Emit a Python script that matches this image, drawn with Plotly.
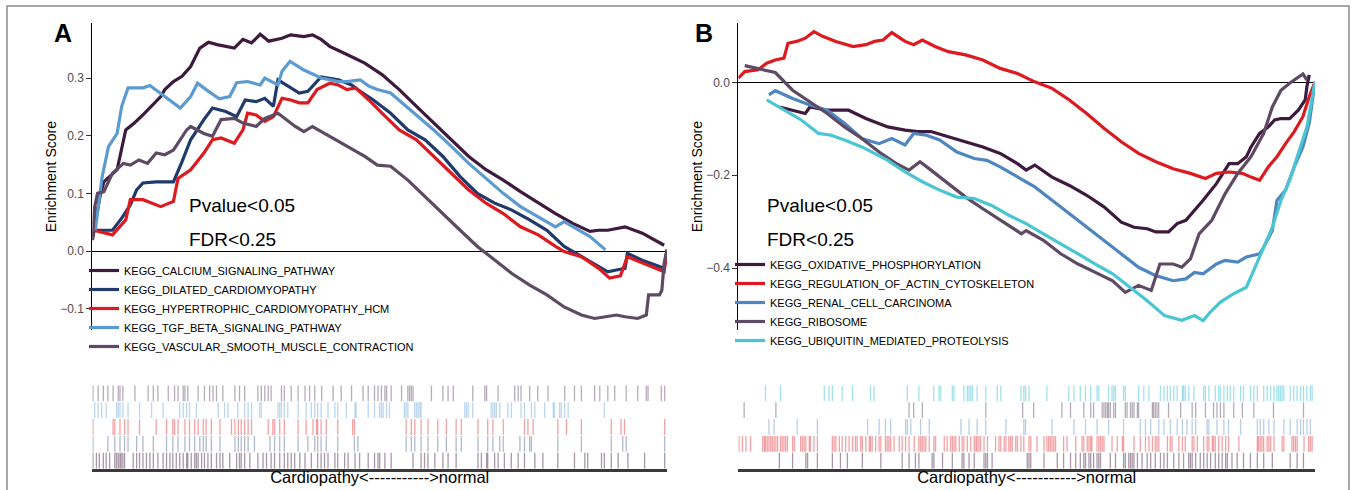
import plotly.graph_objects as go

W, H = 1356, 490
FONT = "Liberation Sans, Arial, sans-serif"

# ---------------- Panel A data (rank 0..1000, enrichment score) ----------------
a_names = ["KEGG_CALCIUM_SIGNALING_PATHWAY", "KEGG_DILATED_CARDIOMYOPATHY",
           "KEGG_HYPERTROPHIC_CARDIOMYOPATHY_HCM", "KEGG_TGF_BETA_SIGNALING_PATHWAY",
           "KEGG_VASCULAR_SMOOTH_MUSCLE_CONTRACTION"]
a_colors = ["#3d1a3e", "#1f3a6b", "#dc1a1f", "#5b9bd0", "#5e4a64"]
a_tick_colors = ["rgba(61,26,62,0.45)", "rgba(31,58,107,0.35)", "rgba(220,26,31,0.40)",
                 "rgba(91,155,208,0.40)", "rgba(94,74,100,0.45)"]

calcium_x = [0, 13, 20, 43, 58, 73, 88, 103, 119, 126, 141, 156, 171, 187, 202, 217, 247, 262, 277, 292, 307, 330, 345, 368, 383, 398, 413, 443, 474, 504, 534, 564, 594, 625, 655, 685, 715, 745, 776, 806, 836, 866, 881, 897, 927, 957, 995]
calcium_y = [0.019, 0.094, 0.120, 0.141, 0.210, 0.222, 0.236, 0.251, 0.268, 0.280, 0.294, 0.303, 0.320, 0.352, 0.362, 0.358, 0.352, 0.367, 0.361, 0.376, 0.364, 0.369, 0.375, 0.372, 0.375, 0.367, 0.355, 0.341, 0.326, 0.306, 0.280, 0.251, 0.222, 0.193, 0.164, 0.141, 0.123, 0.103, 0.083, 0.065, 0.048, 0.034, 0.036, 0.036, 0.042, 0.031, 0.010]

dilated_x = [2, 35, 51, 66, 77, 88, 111, 141, 156, 171, 194, 209, 232, 251, 266, 285, 300, 315, 323, 338, 360, 375, 398, 428, 451, 466, 489, 519, 549, 579, 610, 640, 670, 700, 730, 761, 791, 821, 851, 897, 912, 927, 931, 957, 995, 1000]
dilated_y = [0.036, 0.036, 0.057, 0.080, 0.106, 0.118, 0.120, 0.120, 0.155, 0.193, 0.228, 0.248, 0.242, 0.233, 0.262, 0.259, 0.265, 0.251, 0.297, 0.288, 0.274, 0.277, 0.302, 0.297, 0.288, 0.277, 0.262, 0.239, 0.210, 0.193, 0.164, 0.129, 0.100, 0.083, 0.071, 0.054, 0.036, 0.008, -0.010, -0.036, -0.033, -0.030, -0.004, -0.016, -0.030, 0.002]

hcm_x = [2, 35, 58, 66, 88, 119, 141, 149, 171, 194, 209, 224, 247, 262, 270, 285, 300, 315, 330, 345, 360, 375, 391, 413, 428, 443, 458, 481, 504, 534, 564, 594, 625, 655, 685, 715, 745, 776, 806, 821, 851, 881, 900, 919, 931, 957, 995, 1000]
hcm_y = [0.036, 0.028, 0.054, 0.089, 0.089, 0.077, 0.086, 0.126, 0.141, 0.170, 0.193, 0.196, 0.187, 0.210, 0.239, 0.236, 0.225, 0.233, 0.265, 0.262, 0.257, 0.257, 0.280, 0.291, 0.288, 0.280, 0.283, 0.262, 0.239, 0.210, 0.193, 0.164, 0.135, 0.106, 0.083, 0.065, 0.042, 0.028, 0.008, -0.001, -0.010, -0.030, -0.047, -0.043, -0.010, -0.021, -0.036, 0.002]

tgf_x = [5, 17, 28, 43, 51, 62, 88, 100, 126, 153, 171, 183, 202, 221, 239, 251, 270, 292, 300, 323, 330, 344, 368, 398, 413, 428, 443, 466, 481, 496, 519, 542, 564, 594, 625, 655, 685, 715, 745, 776, 806, 821, 836, 866, 893]
tgf_y = [0.036, 0.129, 0.181, 0.204, 0.251, 0.283, 0.283, 0.287, 0.268, 0.248, 0.268, 0.291, 0.277, 0.264, 0.268, 0.292, 0.294, 0.288, 0.300, 0.288, 0.312, 0.329, 0.314, 0.300, 0.297, 0.294, 0.294, 0.297, 0.286, 0.280, 0.274, 0.254, 0.236, 0.210, 0.181, 0.152, 0.126, 0.100, 0.077, 0.060, 0.042, 0.051, 0.042, 0.025, 0.002]

vascular_x = [0, 4, 9, 20, 35, 54, 66, 81, 96, 111, 126, 141, 149, 164, 171, 194, 209, 224, 247, 262, 285, 300, 323, 338, 353, 368, 383, 413, 443, 474, 496, 519, 549, 579, 610, 640, 670, 700, 730, 761, 791, 821, 851, 874, 897, 912, 927, 949, 964, 968, 987, 991, 995, 1000]
vascular_y = [0.019, 0.077, 0.100, 0.103, 0.135, 0.152, 0.149, 0.158, 0.152, 0.170, 0.167, 0.175, 0.187, 0.210, 0.216, 0.204, 0.199, 0.228, 0.230, 0.222, 0.216, 0.230, 0.239, 0.228, 0.216, 0.207, 0.216, 0.199, 0.181, 0.164, 0.149, 0.147, 0.123, 0.094, 0.065, 0.036, 0.008, -0.016, -0.039, -0.059, -0.076, -0.097, -0.111, -0.117, -0.114, -0.111, -0.114, -0.117, -0.111, -0.076, -0.076, -0.068, -0.021, 0.002]

# gene hit positions (barcode), rank 0..1000
calcium_hits = [1, 7, 12, 19, 24, 30, 39, 42, 45, 48, 50, 53, 56, 71, 77, 82, 88, 94, 100, 106, 114, 123, 129, 135, 140, 146, 152, 158, 164, 166, 172, 178, 181, 184, 190, 195, 201, 207, 216, 222, 227, 239, 251, 256, 259, 265, 274, 288, 297, 303, 311, 317, 326, 334, 340, 346, 352, 361, 370, 381, 392, 398, 404, 410, 422, 427, 439, 445, 457, 465, 480, 491, 497,
                500, 509, 520, 558, 572, 578, 584, 596, 610, 619, 633, 671, 677, 686, 688, 700, 706, 717, 729, 741, 752, 770, 784, 810, 839, 857, 862, 886, 891, 903, 915, 932, 961, 996]
dilated_hits = [1, 27, 39, 48, 56, 62, 77, 88, 106, 129, 140, 149, 161, 169, 178, 187, 193, 198, 207, 222, 248, 254, 259, 265, 271, 282, 309, 317, 326, 334, 358, 375, 387, 392, 398, 407, 427, 456, 462,
                546, 555, 561, 572, 584, 601, 616, 633, 642, 671, 688, 697, 709, 715, 744, 752, 761, 764, 810, 851, 903, 923, 929, 996]
hcm_hits = [1, 36, 39, 48, 56, 62, 82, 111, 129, 140, 143, 149, 161, 169, 178, 184, 193, 198, 207, 222, 242, 248, 254, 259, 265, 271, 277, 306, 314, 317, 326, 334, 358, 372, 384, 390, 392, 398, 407, 427, 453, 456,
            546, 555, 561, 572, 584, 601, 616, 633, 642, 671, 688, 697, 715, 752, 758, 767, 810, 825, 851, 903, 920, 926, 996]
tgf_hits = [4, 10, 16, 24, 42, 45, 48, 53, 62, 82, 103, 123, 152, 158, 164, 169, 181, 219, 230, 236, 253, 265, 271, 277, 291, 294, 323, 326, 329, 334, 340, 358, 372, 381, 387, 392, 398, 410, 422, 427, 442, 457, 459, 480, 491,
            500, 503, 506, 512, 517, 543, 546, 549, 561, 564, 567, 570, 572, 648, 651, 654, 662, 694, 697, 700, 703, 709, 723, 729, 746, 752, 764, 770, 787, 802, 804, 813, 816, 822, 828, 891]
vascular_hits = [1, 10, 19, 27, 36, 45, 48, 53, 74, 97, 106, 114, 132, 143, 149, 158, 161, 166, 184, 195, 204, 210, 216, 227, 248, 256, 265, 288, 294, 300, 306, 311, 329, 334, 346, 358, 370, 378, 387, 399, 419, 433, 451, 471, 480, 491,
                 497, 503, 509, 512, 520, 538, 549, 552, 555, 558, 590, 610, 619, 628, 662, 683, 686, 706, 735, 741, 746, 761, 775, 793, 822, 839, 851, 874, 883, 897, 909, 929, 949, 964, 967, 990, 996]

# ---------------- Panel B data ----------------
b_names = ["KEGG_OXIDATIVE_PHOSPHORYLATION", "KEGG_REGULATION_OF_ACTIN_CYTOSKELETON",
           "KEGG_RENAL_CELL_CARCINOMA", "KEGG_RIBOSOME", "KEGG_UBIQUITIN_MEDIATED_PROTEOLYSIS"]
b_colors = ["#3d1a3e", "#dc1a1f", "#4f86c0", "#5e4a64", "#4ac6d3"]
b_tick_colors = ["rgba(61,26,62,0.45)", "rgba(220,26,31,0.40)", "rgba(79,134,192,0.40)",
                 "rgba(94,74,100,0.45)", "rgba(74,198,211,0.50)"]

oxid_x = [71, 94, 116, 124, 154, 191, 221, 259, 289, 311, 334, 364, 394, 424, 454, 484, 499, 514, 544, 574, 604, 634, 664, 686, 709, 724, 746, 761, 776, 791, 806, 829, 851, 866, 881, 889, 904, 919, 930, 941, 956, 971, 983, 986, 990]
oxid_y = [-0.053, -0.060, -0.067, -0.053, -0.060, -0.060, -0.078, -0.096, -0.103, -0.106, -0.106, -0.117, -0.128, -0.139, -0.153, -0.175, -0.189, -0.178, -0.204, -0.222, -0.243, -0.268, -0.301, -0.312, -0.315, -0.322, -0.322, -0.304, -0.297, -0.276, -0.254, -0.218, -0.175, -0.175, -0.160, -0.139, -0.110, -0.096, -0.081, -0.078, -0.078, -0.060, -0.038, -0.009, 0.016]

actin_x = [0, 11, 34, 49, 64, 79, 86, 101, 116, 131, 146, 169, 199, 221, 236, 251, 266, 289, 304, 319, 341, 364, 394, 424, 454, 484, 514, 544, 574, 604, 634, 664, 694, 724, 754, 784, 810, 829, 851, 874, 889, 904, 919, 934, 949, 964, 979, 990, 1000]
actin_y = [0.009, 0.023, 0.027, 0.041, 0.048, 0.052, 0.084, 0.088, 0.095, 0.109, 0.099, 0.088, 0.077, 0.081, 0.088, 0.091, 0.107, 0.088, 0.081, 0.091, 0.077, 0.066, 0.059, 0.048, 0.030, 0.019, 0.001, -0.013, -0.038, -0.067, -0.099, -0.128, -0.153, -0.171, -0.186, -0.196, -0.207, -0.196, -0.193, -0.196, -0.204, -0.211, -0.182, -0.160, -0.132, -0.106, -0.074, -0.031, 0.001]

renal_x = [53, 64, 94, 124, 154, 184, 214, 244, 266, 289, 304, 326, 349, 379, 409, 431, 454, 484, 514, 544, 574, 604, 634, 664, 694, 724, 754, 776, 791, 806, 829, 844, 866, 881, 904, 911, 926, 934, 949, 964, 979, 990, 1000]
renal_y = [-0.027, -0.018, -0.035, -0.049, -0.060, -0.088, -0.121, -0.132, -0.121, -0.135, -0.110, -0.114, -0.124, -0.150, -0.164, -0.168, -0.182, -0.204, -0.225, -0.254, -0.283, -0.312, -0.340, -0.369, -0.398, -0.416, -0.427, -0.423, -0.409, -0.412, -0.391, -0.383, -0.387, -0.376, -0.369, -0.355, -0.319, -0.254, -0.232, -0.182, -0.139, -0.088, 0.001]

ribo_x = [11, 64, 94, 124, 154, 184, 214, 244, 274, 296, 315, 334, 364, 394, 424, 454, 491, 499, 529, 559, 589, 619, 649, 671, 694, 716, 731, 754, 769, 784, 799, 821, 844, 866, 889, 911, 926, 941, 956, 979, 986]
ribo_y = [0.036, 0.021, -0.017, -0.042, -0.067, -0.096, -0.121, -0.150, -0.175, -0.189, -0.171, -0.189, -0.218, -0.247, -0.272, -0.297, -0.326, -0.319, -0.340, -0.369, -0.391, -0.409, -0.427, -0.452, -0.437, -0.448, -0.391, -0.391, -0.398, -0.380, -0.326, -0.297, -0.240, -0.196, -0.160, -0.110, -0.053, -0.017, -0.002, 0.018, 0.005]

ubiq_x = [49, 79, 109, 139, 161, 184, 214, 236, 259, 289, 319, 349, 379, 409, 439, 469, 499, 529, 559, 589, 619, 649, 679, 709, 739, 769, 791, 806, 818, 836, 859, 881, 896, 911, 926, 941, 956, 971, 986, 1000]
ubiq_y = [-0.038, -0.060, -0.081, -0.110, -0.114, -0.124, -0.139, -0.153, -0.168, -0.193, -0.214, -0.232, -0.247, -0.250, -0.265, -0.286, -0.304, -0.326, -0.347, -0.369, -0.391, -0.412, -0.441, -0.470, -0.502, -0.512, -0.502, -0.513, -0.495, -0.473, -0.455, -0.441, -0.398, -0.355, -0.312, -0.254, -0.211, -0.153, -0.096, 0.001]

oxid_hits = [71, 94, 117, 120, 137, 163, 177, 189, 215, 247, 284, 296, 307, 313, 336, 339, 354, 371, 388, 391, 400, 409, 426, 429, 432, 440,
             501, 504, 507, 530, 553, 564, 576, 585, 593, 599, 602, 608, 611, 616, 622, 625, 628, 645, 654, 668, 671, 677, 680, 683, 686, 692, 700, 709, 715, 723, 732, 738, 744, 755, 764, 772, 781, 784, 787, 793, 801, 807, 813, 819, 827, 833, 839, 845, 848, 856, 865, 876, 888, 900, 911, 926, 957, 969, 980]
actin_hits = [1, 7, 13, 21, 42, 45, 47, 50, 53, 56, 59, 62, 65, 68, 73, 76, 79, 82, 85, 94, 97, 108, 111, 114, 117, 123, 125, 131, 137, 163, 166, 169, 175, 180, 186, 192, 198, 203, 206, 212, 215, 221, 227, 229, 232, 238, 244, 247, 255, 258, 261, 264, 270, 279, 284, 290, 296, 305, 313, 316, 319, 322, 325, 331, 339, 342, 357, 362, 368, 371, 374, 377, 383, 388, 391, 397, 403, 409, 412, 414, 417, 420, 426, 432, 446, 452, 455, 461, 464, 469, 472, 475, 481, 484, 490, 495,
              504, 507, 518, 530, 535, 538, 541, 544, 547, 550, 564, 570, 585, 596, 599, 605, 608, 611, 613, 622, 625, 628, 631, 634, 648, 657, 666, 668, 686, 697, 706, 712, 718, 723, 726, 729, 744, 749, 752, 764, 770, 775, 787, 790, 796, 807, 813, 816, 822, 824, 827, 833, 839, 845, 850, 868, 900, 902, 905, 908, 911, 917, 920, 923, 929, 943, 946, 960, 963, 966, 969, 981, 989, 992, 995]
renal_hits = [53, 62, 102, 137, 224, 244, 255, 264, 290, 293, 299, 316, 331, 386, 400, 414, 429, 464, 495,
              498, 544, 582, 602, 622, 642, 668, 697, 706, 715, 729, 738, 749, 761, 770, 778, 787, 793, 813, 816, 830, 842, 850, 871, 900, 905, 911, 920, 929, 946, 957, 969, 975, 980, 986, 992]
ribo_hits = [10, 65, 296, 304, 319, 429, 493,
             512, 561, 576, 599, 611, 616, 631, 634, 637, 640, 642, 645, 651, 654, 671, 674, 680, 683, 686, 692, 694, 718, 720, 723, 726, 729, 746, 767, 787, 793, 810, 824, 830, 836, 842, 859, 874, 894, 928, 980]
ubiq_hits = [47, 73, 149, 157, 163, 180, 198, 229, 235, 293, 313, 339, 348, 351, 371, 374, 391, 397, 400, 403, 406, 414, 429, 449, 455, 490, 495,
             498, 504, 535, 573, 582, 593, 602, 611, 622, 625, 642, 648, 651, 654, 668, 671, 694, 703, 712, 732, 738, 744, 749, 755, 761, 770, 772, 775, 781, 790, 807, 810, 816, 827, 833, 836, 842, 848, 853, 859, 871, 876, 888, 894, 900, 911, 917, 923, 929, 934, 937, 940, 943, 946, 957, 963, 969, 975, 980, 986, 992, 995]

y_ticks_a = [-0.1, 0.0, 0.1, 0.2, 0.3]
y_ticks_b = [-0.4, -0.2, 0.0]
x_label = "Cardiopathy<----------->normal"

a_lines = [(calcium_x, calcium_y), (dilated_x, dilated_y), (hcm_x, hcm_y), (tgf_x, tgf_y), (vascular_x, vascular_y)]
a_hits = [calcium_hits, dilated_hits, hcm_hits, tgf_hits, vascular_hits]
b_lines = [(oxid_x, oxid_y), (actin_x, actin_y), (renal_x, renal_y), (ribo_x, ribo_y), (ubiq_x, ubiq_y)]
b_hits = [oxid_hits, actin_hits, renal_hits, ribo_hits, ubiq_hits]

fig = go.Figure()


def barcode_xy(hits, row):
    xs, ys = [], []
    for h in hits:
        xs += [h, h, None]
        ys += [row + 0.03, row + 0.97, None]
    return xs, ys


def add_panel(names, colors, tick_colors, lines, hits, xa, ya, xb, yb, legend):
    for n, c, (x, y) in zip(names, colors, lines):
        fig.add_trace(go.Scatter(x=x, y=y, mode="lines", name=n, line=dict(color=c, width=3.2),
                                 xaxis=xa, yaxis=ya, legend=legend))
    for i, (h, tc) in enumerate(zip(hits, tick_colors)):
        bx, by = barcode_xy(h, i)
        fig.add_trace(go.Scatter(x=bx, y=by, mode="lines", line=dict(color=tc, width=1.3),
                                 xaxis=xb, yaxis=yb, showlegend=False, hoverinfo="skip"))


add_panel(a_names, a_colors, a_tick_colors, a_lines, a_hits, "x", "y", "x2", "y2", "legend")
add_panel(b_names, b_colors, b_tick_colors, b_lines, b_hits, "x3", "y3", "x4", "y4", "legend2")


def px_x(p):
    return p / W


def px_y(p):
    return 1 - p / H


ax_a = [px_x(92.4), px_x(667)]
ax_b = [px_x(738.4), px_x(1315)]
main_dom = [px_y(330), px_y(23.3)]
bar_dom = [px_y(469), px_y(385)]

yaxis_common = dict(showline=True, linecolor="black", linewidth=1.3, ticks="outside", ticklen=5,
                    tickcolor="#333", tickwidth=1, tickformat=".1f", showgrid=False,
                    zeroline=True, zerolinecolor="black", zerolinewidth=1.2,
                    tickfont=dict(size=12, color="#4d4d4d", family=FONT),
                    title=dict(text="Enrichment Score", font=dict(size=14, color="black", family=FONT), standoff=0))
xmain = dict(range=[0, 1000], visible=False)
xbar = dict(range=[0, 1000], showline=True, linecolor="#3a3a3a", linewidth=3, ticks="", showticklabels=False,
            showgrid=False, zeroline=False,
            title=dict(text=x_label, font=dict(size=16.5, color="black", family=FONT), standoff=1))
ybar = dict(range=[0, 5], visible=False)

fig.update_layout(
    width=W, height=H, autosize=False,
    margin=dict(l=0, r=0, t=0, b=0),
    paper_bgcolor="white", plot_bgcolor="white",
    font=dict(family=FONT),
    xaxis=dict(domain=ax_a, anchor="y", **xmain),
    yaxis=dict(domain=main_dom, anchor="x", range=[-0.137, 0.395], tickvals=y_ticks_a, **yaxis_common),
    xaxis2=dict(domain=ax_a, anchor="y2", **xbar),
    yaxis2=dict(domain=bar_dom, anchor="x2", **ybar),
    xaxis3=dict(domain=ax_b, anchor="y3", **xmain),
    yaxis3=dict(domain=main_dom, anchor="x3", range=[-0.533, 0.127], tickvals=y_ticks_b, **yaxis_common),
    xaxis4=dict(domain=ax_b, anchor="y4", **xbar),
    yaxis4=dict(domain=bar_dom, anchor="x4", **ybar),
    legend=dict(x=px_x(84), y=px_y(256), xanchor="left", yanchor="top", bgcolor="rgba(0,0,0,0)",
                font=dict(size=11, color="black", family=FONT), itemwidth=30, tracegroupgap=0),
    legend2=dict(x=px_x(730), y=px_y(250), xanchor="left", yanchor="top", bgcolor="rgba(0,0,0,0)",
                 font=dict(size=11, color="black", family=FONT), itemwidth=30, tracegroupgap=0),
    showlegend=True,
)

# outer frame
fig.add_shape(type="rect", xref="paper", yref="paper", x0=px_x(7), x1=px_x(1349), y0=px_y(497), y1=px_y(6),
              line=dict(color="#8a8a8a", width=1.5), fillcolor="rgba(0,0,0,0)", layer="below")

for lab, xl, xt in [("A", 52, 187), ("B", 693, 765)]:
    fig.add_annotation(text="<b>%s</b>" % lab, xref="paper", yref="paper", x=px_x(xl), y=px_y(33),
                       xanchor="left", yanchor="middle", showarrow=False,
                       font=dict(size=25, color="black", family=FONT))
    fig.add_annotation(text="Pvalue<0.05", xref="paper", yref="paper", x=px_x(xt), y=px_y(206),
                       xanchor="left", yanchor="middle", showarrow=False,
                       font=dict(size=19, color="black", family=FONT))
    fig.add_annotation(text="FDR<0.25", xref="paper", yref="paper", x=px_x(xt), y=px_y(239),
                       xanchor="left", yanchor="middle", showarrow=False,
                       font=dict(size=19, color="black", family=FONT))

fig.write_html("out.html", config={"displayModeBar": False},
               post_script="document.body.style.margin='0';")
